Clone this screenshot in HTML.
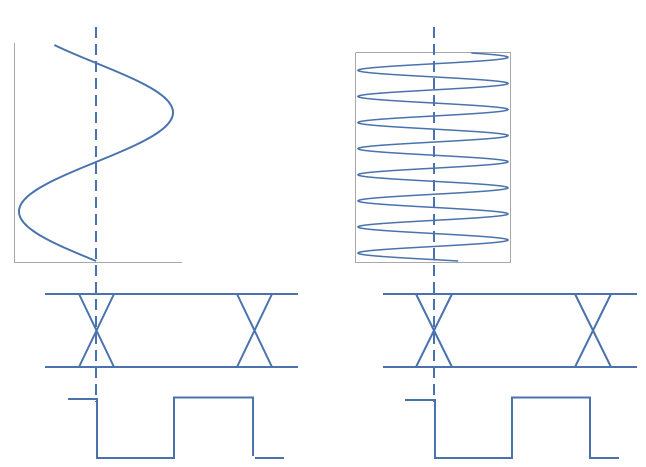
<!DOCTYPE html>
<html><head><meta charset="utf-8"><style>
html,body{margin:0;padding:0;background:#fff;}
svg{display:block}
</style></head><body>
<svg id="s" width="646" height="467" viewBox="0 0 646 467" xmlns="http://www.w3.org/2000/svg">
<g fill="none" stroke="#4a73ae" stroke-width="2">
<!-- boxes -->
<path d="M14.5 43 V262.5 H182" stroke="#a8a8a8" stroke-width="1"/>
<path d="M355.5 53 V262.5 H510.5 V52.5 H355.5" stroke="#a8a8a8" stroke-width="1"/>
<path id="sin1" d=""/>
<path id="sin2" d="" stroke-width="1.6"/>
<!-- dashed -->
<line x1="96" y1="27" x2="96" y2="402" stroke-dasharray="11,6" stroke-width="2"/>
<line x1="434" y1="27" x2="434" y2="402" stroke-dasharray="11,6" stroke-width="2"/>
<!-- eye left -->
<line x1="45" y1="294" x2="298" y2="294"/>
<line x1="45" y1="367" x2="298" y2="367"/>
<path d="M79 294 L114 367 M114 294 L79 367 M237 294 L272 367 M272 294 L237 367"/>
<!-- eye right -->
<line x1="383" y1="294" x2="637" y2="294"/>
<line x1="383" y1="367" x2="637" y2="367"/>
<path d="M416 294 L452 367 M452 294 L416 367 M575 294 L611 367 M611 294 L575 367"/>
<!-- square left -->
<path d="M68 399 H97 V458 H174 V397.5 H253 V456"/>
<path d="M255 458 H284"/>
<!-- square right -->
<path d="M405 400 H435 V458 H512 V397.5 H590 V458 H619"/>
</g>
<script>
(function(){
 var d="";
 for(var y=45;y<=261;y+=1){var x=96+77*Math.sin(2*Math.PI*(y-63)/198);d+=(d?"L":"M")+x.toFixed(1)+" "+y+" ";}
 document.getElementById("sin1").setAttribute("d",d);
 d="";
 for(var y=53;y<=261;y+=0.5){var x=433+75*Math.sin(2*Math.PI*(y-57.3)/26.1+Math.PI/2);d+=(d?"L":"M")+x.toFixed(1)+" "+y+" ";}
 document.getElementById("sin2").setAttribute("d",d);
})();
</script>
</svg>
</body></html>
